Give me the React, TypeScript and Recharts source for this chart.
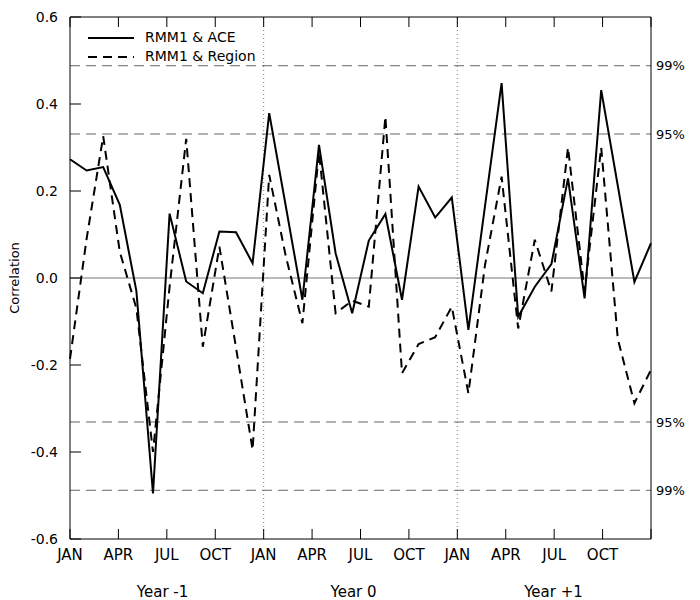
import React from 'react';
import { LineChart, Line, XAxis, YAxis, ReferenceLine, Legend } from 'recharts';

// monthly lag correlations, Jan of Year -1 through Dec of Year +1
const aceCorr = [
  0.273, 0.247, 0.255, 0.168, -0.03, -0.495, 0.148, -0.008, -0.035, 0.107, 0.105, 0.034,
  0.379, 0.165, -0.05, 0.306, 0.057, -0.081, 0.086, 0.147, -0.05, 0.21, 0.139, 0.185,
  -0.119, 0.165, 0.448, -0.089, -0.02, 0.032, 0.229, -0.047, 0.432, 0.212, -0.009, 0.08,
];
const regionCorr = [
  -0.186, 0.09, 0.326, 0.06, -0.07, -0.4, -0.02, 0.32, -0.158, 0.072, -0.16, -0.395,
  0.237, 0.05, -0.104, 0.29, -0.081, -0.052, -0.066, 0.371, -0.219, -0.152, -0.136, -0.066,
  -0.265, 0.03, 0.233, -0.116, 0.088, -0.031, 0.3, -0.03, 0.3, -0.14, -0.288, -0.211,
];

const monthLabels = ['JAN', 'APR', 'JUL', 'OCT', 'JAN', 'APR', 'JUL', 'OCT', 'JAN', 'APR', 'JUL', 'OCT', ''];
const yearLabels = ['Year -1', 'Year 0', 'Year +1'];
const yTicks = [-0.6, -0.4, -0.2, 0, 0.2, 0.4, 0.6];
const sig95 = 0.331;
const sig99 = 0.488;

const FONT = 'DejaVu Sans';
const LAST = aceCorr.length - 1;
const STEP = LAST / (monthLabels.length - 1);

const data = aceCorr.map((v, i) => ({ m: i, ace: v, region: regionCorr[i] }));
const monthTicks = monthLabels.map((_, k) => k * STEP);
const yearTicks = yearLabels.map((_, k) => (2 + 4 * k) * STEP);
const janLines = [4 * STEP, 8 * STEP];

const MonthTick = ({ x, y, index }: any) => (
  <g>
    <line x1={x} y1={y} x2={x} y2={y - 10} stroke="#000" />
    <text x={x} y={y + 21} textAnchor="middle" fontFamily={FONT} fontSize={15} fill="#000">
      {monthLabels[index]}
    </text>
  </g>
);

const YearTick = ({ x, y, index }: any) => (
  <text x={x - 30} y={y + 28} textAnchor="start" fontFamily={FONT} fontSize={15} fill="#000">
    {yearLabels[index]}
  </text>
);

const TopTick = ({ x, y }: any) => <line x1={x} y1={y} x2={x} y2={y + 10} stroke="#000" />;

const LeftTick = ({ x, y, payload }: any) => (
  <g>
    <line x1={x} y1={y} x2={x + 11} y2={y} stroke="#000" />
    <text x={x - 12} y={y + 5} textAnchor="end" fontFamily={FONT} fontSize={14} fill="#000">
      {payload.value.toFixed(1)}
    </text>
  </g>
);

const RightTick = ({ x, y }: any) => <line x1={x} y1={y} x2={x - 10} y2={y} stroke="#000" />;

const CorrLabel = ({ viewBox }: any) => {
  const cx = viewBox.x + 15;
  const cy = viewBox.y + viewBox.height / 2;
  return (
    <text x={cx} y={cy} transform={`rotate(-90, ${cx}, ${cy})`} textAnchor="middle"
      dominantBaseline="middle" fontFamily={FONT} fontSize={13} fill="#000">
      Correlation
    </text>
  );
};

const legendItems = [
  { name: 'RMM1 & ACE', dash: undefined },
  { name: 'RMM1 & Region', dash: '9 6' },
];

const renderLegend = () => (
  <svg width={200} height={42}>
    {legendItems.map((item, i) => (
      <g key={item.name}>
        <line x1={7} x2={53} y1={12 + i * 19} y2={12 + i * 19} stroke="#000" strokeWidth={2}
          strokeDasharray={item.dash} />
        <text x={64} y={12 + i * 19} dominantBaseline="middle" fontFamily={FONT} fontSize={14} fill="#000">
          {item.name}
        </text>
      </g>
    ))}
  </svg>
);

const sigLabel = (value: string) => ({
  value,
  position: 'right' as const,
  offset: 5,
  fill: '#000',
  fontFamily: FONT,
  fontSize: 13,
});

export default function App() {
  return (
    <div style={{ position: 'fixed', left: 0, top: 0, background: '#fff' }}>
      <LineChart width={700} height={600} data={data} margin={{ top: 7, right: 0, bottom: 0, left: 0 }}>
        <XAxis xAxisId="main" dataKey="m" type="number" domain={[0, LAST]} ticks={monthTicks}
          interval={0} height={30} tickSize={0} tickMargin={0} tickLine={false}
          axisLine={{ stroke: '#000' }} tick={<MonthTick />} />
        <XAxis xAxisId="year" dataKey="m" type="number" domain={[0, LAST]} ticks={yearTicks}
          interval={0} height={31} tickSize={0} tickMargin={0} tickLine={false}
          axisLine={false} tick={<YearTick />} />
        <XAxis xAxisId="top" orientation="top" dataKey="m" type="number" domain={[0, LAST]}
          ticks={monthTicks} interval={0} height={10} tickSize={0} tickMargin={0} tickLine={false}
          axisLine={{ stroke: '#000' }} tick={<TopTick />} />
        <YAxis yAxisId="left" domain={[-0.6, 0.6]} ticks={yTicks} interval={0} width={70}
          tickSize={0} tickMargin={0} tickLine={false} axisLine={{ stroke: '#000' }}
          tick={<LeftTick />} label={<CorrLabel />} />
        <YAxis yAxisId="right" orientation="right" domain={[-0.6, 0.6]} ticks={yTicks} interval={0}
          width={49} tickSize={0} tickMargin={0} tickLine={false} axisLine={{ stroke: '#000' }}
          tick={<RightTick />} />

        <ReferenceLine xAxisId="main" yAxisId="left" y={0} stroke="#777" strokeWidth={1} />
        {janLines.map((x) => (
          <ReferenceLine key={x} xAxisId="main" yAxisId="left" x={x} stroke="#777"
            strokeDasharray="1 3" />
        ))}
        <ReferenceLine xAxisId="main" yAxisId="left" y={sig99} stroke="#666" strokeDasharray="10 6"
          label={sigLabel('99%')} />
        <ReferenceLine xAxisId="main" yAxisId="left" y={sig95} stroke="#666" strokeDasharray="10 6"
          label={sigLabel('95%')} />
        <ReferenceLine xAxisId="main" yAxisId="left" y={-sig95} stroke="#666" strokeDasharray="10 6"
          label={sigLabel('95%')} />
        <ReferenceLine xAxisId="main" yAxisId="left" y={-sig99} stroke="#666" strokeDasharray="10 6"
          label={sigLabel('99%')} />

        <Line xAxisId="main" yAxisId="left" type="linear" dataKey="ace" name="RMM1 & ACE"
          stroke="#000" strokeWidth={2} dot={false} isAnimationActive={false} />
        <Line xAxisId="main" yAxisId="left" type="linear" dataKey="region" name="RMM1 & Region"
          stroke="#000" strokeWidth={2} strokeDasharray="9 6" dot={false} isAnimationActive={false} />

        <Legend layout="horizontal" align="center" verticalAlign="middle" content={renderLegend}
          wrapperStyle={{ left: 81, top: 26, width: 200, height: 42 }} />
      </LineChart>
    </div>
  );
}
